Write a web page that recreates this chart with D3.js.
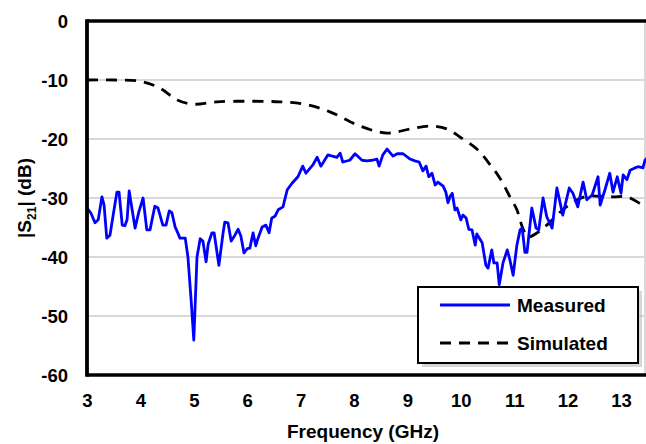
<!DOCTYPE html>
<html>
<head>
<meta charset="utf-8">
<script src="https://cdn.jsdelivr.net/npm/d3@7"></script>
<style>
  body { margin: 0; background: #fff; }
  svg { display: block; font-family: "Liberation Sans", Arial, sans-serif; font-weight: bold; }
</style>
</head>
<body>
<div id="container"></div>
<script>
// DATA
// measured |S21| (freq GHz, dB)
const measFreq = [3.00,3.07,3.15,3.21,3.28,3.32,3.37,3.43,3.49,3.56,3.60,3.66,3.71,3.75,3.79,3.84,3.90,3.97,4.05,4.12,
  4.18,4.27,4.33,4.42,4.48,4.54,4.59,4.65,4.70,4.74,4.84,4.89,4.95,5.00,5.06,5.12,5.17,5.23,5.27,5.34,
  5.38,5.47,5.55,5.58,5.64,5.70,5.77,5.83,5.88,5.94,6.00,6.05,6.11,6.16,6.20,6.28,6.35,6.41,6.46,6.52,
  6.58,6.67,6.75,6.84,6.95,7.04,7.10,7.23,7.31,7.38,7.51,7.68,7.74,7.79,7.92,8.02,8.15,8.24,8.34,8.43,
  8.47,8.54,8.62,8.73,8.81,8.92,9.05,9.14,9.22,9.29,9.35,9.40,9.46,9.52,9.57,9.67,9.72,9.76,9.80,9.84,
  9.89,9.93,10.00,10.04,10.10,10.15,10.21,10.27,10.30,10.40,10.47,10.51,10.58,10.62,10.68,10.72,10.79,10.87,10.92,10.98,
  11.05,11.11,11.15,11.20,11.24,11.33,11.41,11.46,11.54,11.61,11.71,11.80,11.91,12.03,12.10,12.19,12.29,12.36,12.46,12.57,
  12.61,12.70,12.79,12.85,12.93,13.00,13.04,13.11,13.17,13.26,13.32,13.41,13.45,13.50];
const measDb = [-31.7,-32.5,-34.2,-33.7,-29.8,-31.2,-36.8,-36.3,-32.9,-29.0,-29.0,-34.6,-34.7,-33.7,-28.8,-31.7,-35.1,-32.4,-30.0,-35.4,
  -35.4,-31.4,-31.7,-34.6,-34.6,-32.2,-32.5,-34.9,-35.9,-36.8,-36.8,-40.0,-47.3,-54.1,-40.0,-36.9,-37.3,-40.8,-37.8,-35.9,
  -35.9,-41.4,-35.8,-34.1,-34.2,-37.3,-36.3,-35.3,-36.4,-39.3,-38.6,-38.5,-35.9,-38.1,-36.9,-34.9,-34.6,-35.9,-33.4,-33.1,
  -32.0,-31.5,-28.6,-27.5,-26.4,-24.6,-25.8,-24.4,-23.1,-24.6,-22.7,-23.1,-22.4,-23.9,-23.6,-22.5,-23.6,-23.7,-23.6,-23.4,
  -24.6,-22.7,-21.7,-22.9,-22.5,-22.5,-23.4,-23.7,-23.9,-25.4,-24.6,-26.4,-25.8,-27.8,-27.3,-28.0,-29.0,-30.8,-29.7,-29.2,
  -32.0,-31.7,-33.7,-32.9,-33.4,-35.3,-35.4,-38.0,-36.1,-37.6,-41.4,-41.9,-38.8,-41.0,-41.0,-44.7,-41.0,-38.8,-40.5,-43.1,
  -38.0,-35.4,-35.1,-39.2,-39.2,-31.7,-35.1,-35.4,-30.0,-33.2,-35.1,-28.3,-32.9,-28.3,-29.2,-31.5,-27.3,-30.3,-29.5,-26.4,
  -31.2,-28.6,-25.8,-29.0,-26.4,-29.2,-26.1,-26.9,-25.3,-24.9,-24.7,-24.9,-23.6,-23.1];

// simulated |S21|
const simFreq = [3.00,3.52,3.99,4.37,4.69,4.99,5.43,6.05,6.61,7.08,7.55,8.11,8.62,9.05,9.42,9.74,9.99,10.30,10.51,10.73,
  10.92,11.05,11.16,11.26,11.43,11.61,11.86,12.10,12.36,12.61,12.85,13.11,13.41,13.54];
const simDb = [-10.0,-10.0,-10.2,-11.4,-13.4,-14.1,-13.7,-13.6,-13.7,-14.1,-15.4,-17.8,-19.0,-18.3,-17.8,-18.3,-19.7,-21.7,-23.9,-26.6,
  -29.8,-32.0,-35.1,-36.6,-35.9,-34.6,-32.4,-30.7,-29.7,-29.7,-29.8,-29.8,-31.2,-31.7];

const xTicks = [3,4,5,6,7,8,9,10,11,12,13];
const yTicks = [0,-10,-20,-30,-40,-50,-60];
const seriesNames = ["Measured", "Simulated"];

// SVG
const W = 646, H = 444;
const plotLeft = 87, plotTop = 21, plotBottom = 375;
const dash = "11,8";

const svg = d3.select("#container").append("svg")
  .attr("width", W).attr("height", H);

// SCALES
const x = d3.scaleLinear().domain([3, 13.5]).range([plotLeft, plotLeft + 10.5 * 53.4]);
const y = d3.scaleLinear().domain([-60, 0]).range([plotBottom, plotTop]);

// gridlines
svg.append("g")
  .selectAll("line.grid")
  .data(yTicks.slice(1, -1))
  .enter().append("line")
    .attr("x1", plotLeft).attr("x2", W)
    .attr("y1", d => y(d)).attr("y2", d => y(d))
    .attr("stroke", "#d9d9d9").attr("stroke-width", 2);

// right border (light)
svg.append("line")
  .attr("x1", W - 1).attr("x2", W - 1)
  .attr("y1", plotTop).attr("y2", plotBottom)
  .attr("stroke", "#d9d9d9").attr("stroke-width", 2);

// LINES
const pts = (fs, vs) => fs.map((f, i) => [f, vs[i]]);

const measLine = d3.line()
  .x(d => x(d[0])).y(d => y(d[1]));

const simLine = d3.line()
  .x(d => x(d[0])).y(d => y(d[1]))
  .curve(d3.curveCatmullRom);

svg.append("path")
  .datum(pts(simFreq, simDb))
  .attr("d", simLine)
  .attr("fill", "none")
  .attr("stroke", "#000")
  .attr("stroke-width", 2.8)
  .attr("stroke-dasharray", dash);

svg.append("path")
  .datum(pts(measFreq, measDb))
  .attr("d", measLine)
  .attr("fill", "none")
  .attr("stroke", "#0000ff")
  .attr("stroke-width", 2.8)
  .attr("stroke-linejoin", "round");

// AXES frame
svg.append("line")
  .attr("x1", plotLeft).attr("x2", W).attr("y1", plotTop).attr("y2", plotTop)
  .attr("stroke", "#000").attr("stroke-width", 3.5);
svg.append("line")
  .attr("x1", plotLeft).attr("x2", W).attr("y1", plotBottom).attr("y2", plotBottom)
  .attr("stroke", "#000").attr("stroke-width", 3.5);
svg.append("line")
  .attr("x1", plotLeft).attr("x2", plotLeft).attr("y1", plotTop - 1.75).attr("y2", plotBottom + 1.75)
  .attr("stroke", "#000").attr("stroke-width", 3.8);

// tick labels via axis generators (plain hyphen minus)
const xAxisGen = d3.axisBottom(x).tickValues(xTicks).tickSize(0).tickPadding(19)
  .tickFormat(d => String(d));
const yAxisGen = d3.axisLeft(y).tickValues(yTicks).tickSize(0).tickPadding(19)
  .tickFormat(d => String(d));

const xAxis = svg.append("g")
  .attr("transform", "translate(0," + plotBottom + ")")
  .call(xAxisGen);
const yAxis = svg.append("g")
  .attr("transform", "translate(" + plotLeft + ",0)")
  .call(yAxisGen);

[xAxis, yAxis].forEach(a => {
  a.attr("font-family", null).attr("font-size", null);
  a.select(".domain").remove();
  a.selectAll(".tick text")
    .style("font-size", "18.5px")
    .style("font-weight", "bold")
    .style("font-family", "'Liberation Sans', Arial, sans-serif")
    .attr("fill", "#000");
});
yAxis.selectAll(".tick text").attr("dy", "0.36em");

// axis titles
svg.append("text")
  .attr("x", 363).attr("y", 438)
  .attr("text-anchor", "middle")
  .attr("font-size", 19)
  .text("Frequency (GHz)");

const yt = svg.append("text")
  .attr("transform", "translate(31,198) rotate(-90)")
  .attr("text-anchor", "middle")
  .attr("font-size", 19);
yt.append("tspan").text("|S");
yt.append("tspan").attr("font-size", 12).attr("dy", 5).text("21");
yt.append("tspan").attr("dy", -5).text("| (dB)");

// LEGEND
const lg = svg.append("g").attr("transform", "translate(418,287)");
lg.append("rect")
  .attr("x", 4).attr("y", 4).attr("width", 220).attr("height", 76)
  .attr("fill", "#bbb").attr("opacity", 0.6);
lg.append("rect")
  .attr("width", 220).attr("height", 76)
  .attr("fill", "#fff").attr("stroke", "#000").attr("stroke-width", 2);

const legendItems = lg.selectAll("g.item")
  .data(seriesNames)
  .enter().append("g")
    .attr("transform", (d, i) => "translate(0," + (18 + i * 38) + ")");

legendItems.append("line")
  .attr("x1", 22).attr("x2", 92)
  .attr("stroke", (d, i) => i === 0 ? "#0000ff" : "#000")
  .attr("stroke-width", 2.8)
  .attr("stroke-dasharray", (d, i) => i === 0 ? null : dash);

legendItems.append("text")
  .attr("x", 99).attr("dy", "0.36em")
  .attr("font-size", 19)
  .text(d => d);
</script>
</body>
</html>
